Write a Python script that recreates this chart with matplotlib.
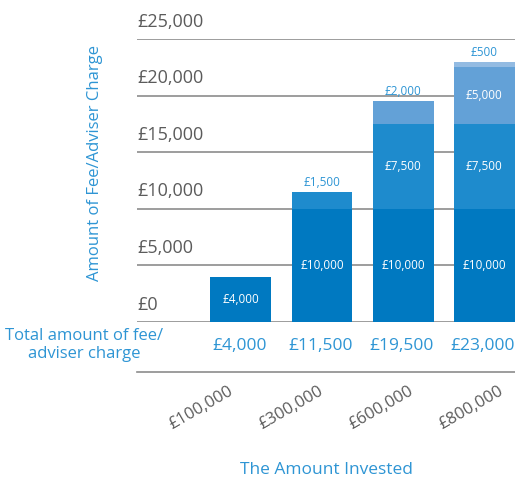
import numpy as np
import matplotlib.pyplot as plt

plt.rcParams['font.family'] = ['Open Sans', 'DejaVu Sans']

# data
invested = ['£100,000', '£300,000', '£600,000', '£800,000']
tier_1 = [4000, 10000, 10000, 10000]
tier_2 = [0, 1500, 7500, 7500]
tier_3 = [0, 0, 2000, 5000]
tier_4 = [0, 0, 0, 500]
yticks = [0, 5000, 10000, 15000, 20000, 25000]

tiers = [tier_1, tier_2, tier_3, tier_4]
colors = ['#0079c1', '#1e8bcd', '#63a1d7', '#93bbe2']
blue_text = '#2e95d4'
grey = '#5b5b5b'

fig = plt.figure(figsize=(5.15, 4.79), dpi=100)
ax = fig.add_axes([0.266, 0.328, 0.734, 0.5906])

x = np.arange(len(invested))
bottom = np.zeros(len(invested))
tops = np.array(tiers).sum(axis=0)
for vals, c in zip(tiers, colors):
    vals = np.array(vals)
    ax.bar(x, vals, width=0.75, bottom=bottom, color=c, zorder=3)
    for i, v in enumerate(vals):
        if v == 0:
            continue
        label = f'£{v:,}'
        if v < 2500 and bottom[i] + v == tops[i]:
            # small top slices get their label above the bar
            ax.annotate(label, (x[i], bottom[i] + v), xytext=(0, 2),
                        textcoords='offset points', ha='center', va='bottom',
                        color=blue_text, fontsize=8.5, zorder=4)
        else:
            ax.text(x[i], bottom[i] + v / 2, label, ha='center', va='center',
                    color='white', fontsize=8.5, zorder=4)
    bottom += vals

ax.set_xlim(-1.278, 3.377)
ax.set_ylim(0, 25000)

# gridlines with labels sitting on top of them
for t in yticks:
    ax.axhline(t, color='#8c8c8c', lw=1.2, zorder=1)
    ax.annotate(f'£{t:,}', (-1.27, t), xytext=(0, 6), textcoords='offset points',
                ha='left', va='bottom', color=grey, fontsize=13)

ax.set_xticks([])
ax.set_yticks([])
for s in ax.spines.values():
    s.set_visible(False)

# totals row
for i, t in enumerate(tops):
    ax.text(x[i] - 0.02, -0.085, f'£{t:,}', transform=ax.get_xaxis_transform(),
            ha='center', va='center', color=blue_text, fontsize=12.5)
fig.text(84 / 515, 1 - 345 / 479, 'Total amount of fee/\nadviser charge',
         ha='center', va='center', color=blue_text, fontsize=12, linespacing=1.2)
ax.plot([0, 1], [-0.1767, -0.1767], transform=ax.transAxes, color='#8c8c8c',
        lw=1.2, clip_on=False)

# invested amounts, rotated
for i, lab in enumerate(invested):
    ax.text(-0.154 + 1.107 * i, -0.216, lab, transform=ax.get_xaxis_transform(),
            ha='right', va='top', rotation=30, rotation_mode='anchor',
            color=grey, fontsize=12)

fig.text(326 / 515, 1 - 470 / 479, 'The Amount Invested', ha='center',
         va='center', color=blue_text, fontsize=12.5)
fig.text(95 / 515, 1 - 163 / 479, 'Amount of Fee/Adviser Charge', ha='center',
         va='center', rotation=90, color=blue_text, fontsize=12)

plt.savefig('out.png', dpi=100)
